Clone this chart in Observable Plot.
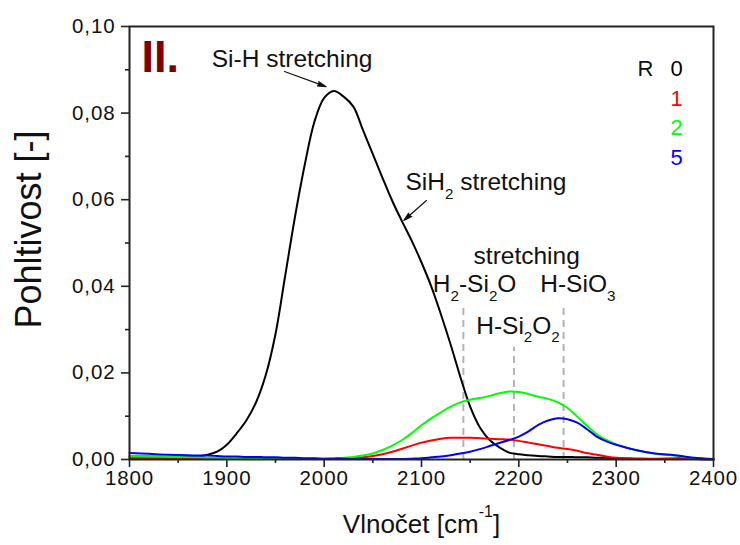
<!DOCTYPE html>
<html><head><meta charset="utf-8">
<script src="https://cdn.jsdelivr.net/npm/d3@7"></script>
<script src="https://cdn.jsdelivr.net/npm/@observablehq/plot@0.6"></script>
<style>
body{margin:0;background:#fff;}
#chart svg{display:block;background:#fff;}
#chart g[aria-label="x-axis tick label"] text,#chart g[aria-label="y-axis tick label"] text{letter-spacing:0.9px;}
</style></head><body><div id="chart"></div>
<script>
// ---- data ----
const wavenumber = [1800,1820,1840,1860,1870,1880,1890,1900,1910,1920,1930,1940,1950,1960,1970,1980,1990,2000,2010,2020,2030,2040,2050,2060,2070,2080,2090,2100,2110,2120,2130,2140,2150,2160,2170,2180,2190,2200,2210,2220,2230,2240,2250,2260,2270,2280,2290,2300,2320,2340,2360,2370,2380,2400];
const r0 = [0.0007,0.0007,0.0006,0.0006,0.0007,0.0011,0.0018,0.0034,0.0060,0.0090,0.0132,0.0195,0.0290,0.0425,0.0560,0.0680,0.0780,0.0835,0.0851,0.0838,0.0815,0.0760,0.0705,0.0650,0.0597,0.0550,0.0505,0.0455,0.0400,0.0335,0.0265,0.0190,0.0122,0.0074,0.0045,0.0028,0.0016,0.0012,0.0010,0.0008,0.0007,0.0006,0.0006,0.0005,0.0005,0.0004,0.0004,0.0003,0.0002,0.0001,0.0001,0.0001,0.0001,0.0000];
const r1 = [0.0003,0.0003,0.0002,0.0002,0.0002,0.0002,0.0001,0.0001,0.0001,0.0001,0.0001,0.0001,0.0001,0.0001,0.0001,0.0001,0.0001,0.0001,0.0001,0.0002,0.0003,0.0005,0.0008,0.0012,0.0018,0.0025,0.0032,0.0039,0.0044,0.0048,0.0050,0.0050,0.0050,0.0049,0.0048,0.0047,0.0046,0.0043,0.0039,0.0035,0.0031,0.0027,0.0024,0.0020,0.0015,0.0011,0.0007,0.0004,0.0002,0.0002,0.0003,0.0004,0.0002,0.0000];
const r2 = [0.0008,0.0007,0.0006,0.0005,0.0005,0.0004,0.0004,0.0003,0.0003,0.0003,0.0002,0.0002,0.0002,0.0002,0.0002,0.0002,0.0002,0.0002,0.0003,0.0004,0.0006,0.0009,0.0014,0.0022,0.0032,0.0045,0.0061,0.0079,0.0095,0.0109,0.0122,0.0132,0.0138,0.0142,0.0147,0.0153,0.0157,0.0156,0.0151,0.0145,0.0140,0.0132,0.0119,0.0099,0.0078,0.0058,0.0045,0.0035,0.0022,0.0013,0.0009,0.0006,0.0003,0.0000];
const r5 = [0.0015,0.0013,0.0011,0.0010,0.0009,0.0009,0.0008,0.0007,0.0007,0.0006,0.0006,0.0005,0.0005,0.0004,0.0004,0.0003,0.0003,0.0002,0.0002,0.0002,0.0001,0.0001,0.0001,0.0001,0.0001,0.0001,0.0002,0.0003,0.0005,0.0007,0.0010,0.0014,0.0018,0.0024,0.0031,0.0038,0.0045,0.0053,0.0065,0.0080,0.0090,0.0095,0.0093,0.0085,0.0070,0.0053,0.0042,0.0034,0.0022,0.0014,0.0010,0.0007,0.0004,0.0001];
const seriesNames = ["0","1","2","5"];
const seriesColors = ["#000000","#ff0000","#00ff00","#0000ff"];
const yTicks = [0,0.02,0.04,0.06,0.08,0.10];
const yMinor = [0.01,0.03,0.05,0.07,0.09];
const xTicks = [1800,1900,2000,2100,2200,2300,2400];
const xMinor = [1850,1950,2050,2150,2250,2350];
const bandPositions = [2143,2195,2246];
const bandTops = [0.0356,0.0259,0.0356];
const bandLabels = ["stretching","H_{2}-Si_{2}O","H-SiO_{3}","H-Si_{2}O_{2}"];
const peakLabels = ["Si-H stretching","SiH_{2} stretching"];
const panelLabel = "II.";
const legendTitle = "R";
const xLabel = "Vlnočet [cm^{-1}]";
const yLabel = "Pohltivost [-]";

// ---- tables built from the arrays ----
const seriesValues = [r0,r1,r2,r5];
const rows = seriesNames.flatMap((s,i)=>wavenumber.map((w,j)=>({w, a: seriesValues[i][j], s})));
const bands = bandPositions.map((x,i)=>({x, top: bandTops[i]}));
const annot = [
  {t: peakLabels[0], x: 1884.5, y: 0.0925},
  {t: peakLabels[1], x: 2083.5, y: 0.0640},
  {t: bandLabels[0], x: 2153.5, y: 0.0469},
  {t: bandLabels[1], x: 2111.6, y: 0.0404},
  {t: bandLabels[2], x: 2222.0, y: 0.0404},
  {t: bandLabels[3], x: 2156.2, y: 0.0309}
];
const arrows = [
  {x1: 1959.2, y1: 0.0896, x2: 2001.9, y2: 0.0861},
  {x1: 2105.1, y1: 0.0598, x2: 2081.8, y2: 0.0552}
];
const legendRows = seriesNames.map((s,i)=>({s, c: seriesColors[i], i}));
const fmt = d => d.toFixed(2).replace(".", ",");

const chart = Plot.plot({
  width: 740, height: 545,
  marginLeft: 129, marginRight: 27, marginTop: 26, marginBottom: 86,
  style: {fontFamily: "'Liberation Sans', Arial, sans-serif", fontSize: "20px", color: "#111", background: "#fff"},
  x: {domain: [1800, 2400]},
  y: {domain: [0, 0.1]},
  color: {domain: seriesNames, range: seriesColors},
  marks: [
    Plot.ruleX(bands, {x: "x", y1: 0, y2: "top", stroke: "#b4b4b4", strokeWidth: 2, strokeDasharray: "7,5"}),
    Plot.line(rows, {x: "w", y: "a", z: "s", stroke: "s", strokeWidth: 2, curve: "catmull-rom"}),
    Plot.axisY(yTicks, {tickSize: 8, tickPadding: 6, tickFormat: fmt, label: null, stroke: "#222", strokeWidth: 1.6, fontSize: 20.5}),
    Plot.axisY(yMinor, {tickSize: 4, tickFormat: () => "", label: null, stroke: "#222", strokeWidth: 1.6}),
    Plot.axisX(xTicks, {tickSize: 8, tickPadding: 3, tickFormat: d => String(d), label: null, stroke: "#222", strokeWidth: 1.6, fontSize: 20.5}),
    Plot.axisX(xMinor, {tickSize: 4, tickFormat: () => "", label: null, stroke: "#222", strokeWidth: 1.6}),
    Plot.frame({stroke: "#222", strokeWidth: 2}),
    Plot.text(annot, {x: "x", y: "y", text: "t", textAnchor: "start", lineAnchor: "middle", fontSize: 24.5, fill: "#111"}),
    Plot.arrow(arrows, {x1: "x1", y1: "y1", x2: "x2", y2: "y2", stroke: "#111", fill: "#111", strokeWidth: 1.2, headLength: 11, headAngle: 30}),
    Plot.text([panelLabel], {frameAnchor: "top-left", dx: 12, dy: 14, textAnchor: "start", lineAnchor: "top", fontSize: 45, fontWeight: "bold", fill: "#800000"}),
    Plot.text([legendTitle], {x: () => 2330, y: () => 0.0901, textAnchor: "middle", lineAnchor: "middle", fontSize: 22, fill: "#111"}),
    Plot.text(legendRows, {x: () => 2362, y: d => 0.0901 - d.i * 0.0068, text: "s", fill: "c", textAnchor: "middle", lineAnchor: "middle", fontSize: 22}),
    Plot.text([xLabel], {frameAnchor: "bottom", dy: 65, textAnchor: "middle", lineAnchor: "middle", fontSize: 26, fill: "#111"}),
    Plot.text([yLabel], {frameAnchor: "left", rotate: -90, dx: -100, dy: -13.5, textAnchor: "middle", lineAnchor: "middle", fontSize: 36, fill: "#111"})
  ]
});
document.getElementById("chart").appendChild(chart);

// rich text: _{...} subscript, ^{...} superscript
function richify(svg){
  svg.querySelectorAll("text").forEach(t => {
    const s = t.textContent;
    if (!/[_^]\{/.test(s)) return;
    const fs = parseFloat(getComputedStyle(t).fontSize) || 20;
    const re = /([_^])\{([^}]*)\}/g;
    const segs = []; let last = 0, m;
    while ((m = re.exec(s))) {
      if (m.index > last) segs.push({k: "n", v: s.slice(last, m.index)});
      segs.push({k: m[1] === "_" ? "sub" : "sup", v: m[2]});
      last = re.lastIndex;
    }
    if (last < s.length) segs.push({k: "n", v: s.slice(last)});
    while (t.firstChild) t.removeChild(t.firstChild);
    let cur = 0;
    segs.forEach(g => {
      const ts = document.createElementNS("http://www.w3.org/2000/svg", "tspan");
      const target = g.k === "sub" ? 0.36 * fs : g.k === "sup" ? -0.6 * fs : 0;
      if (target !== cur) ts.setAttribute("dy", (target - cur).toFixed(2));
      cur = target;
      if (g.k !== "n") ts.setAttribute("font-size", (0.62 * fs).toFixed(1));
      ts.textContent = g.v;
      t.appendChild(ts);
    });
  });
}
richify(chart);
</script></body></html>
